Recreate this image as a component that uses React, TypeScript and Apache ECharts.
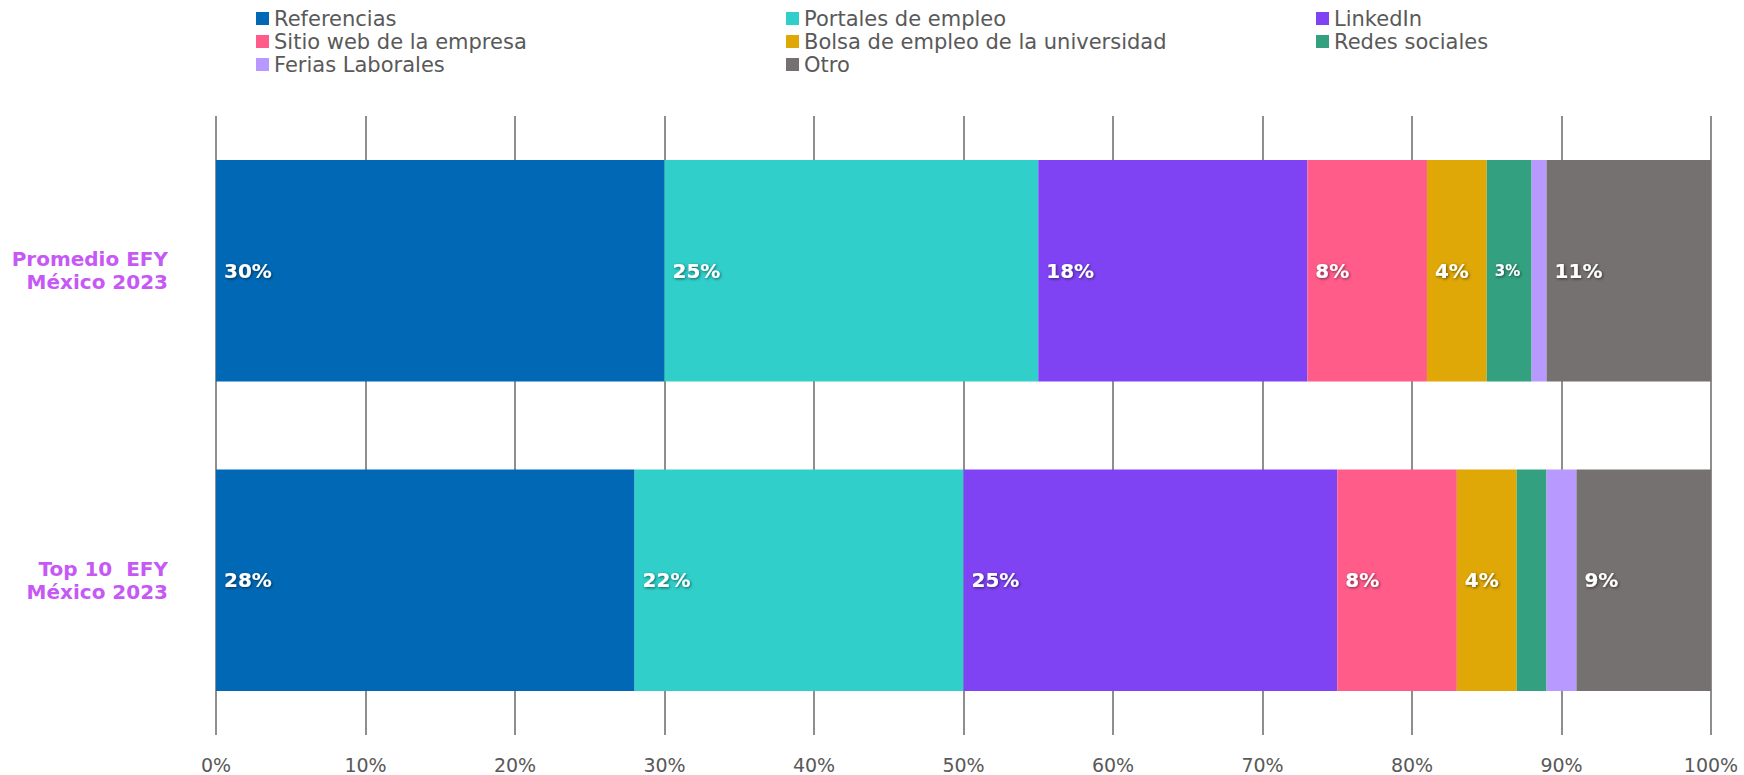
import React, { useEffect, useRef } from "react";
import * as echarts from "echarts";

const categories = ["Promedio EFY\nMéxico 2023", "Top 10  EFY\nMéxico 2023"];
const seriesNames = [
  "Referencias",
  "Portales de empleo",
  "LinkedIn",
  "Sitio web de la empresa",
  "Bolsa de empleo de la universidad",
  "Redes sociales",
  "Ferias Laborales",
  "Otro",
];
const referencias = [30, 28];
const portales = [25, 22];
const linkedin = [18, 25];
const sitioWeb = [8, 8];
const bolsa = [4, 4];
const redes = [3, 2];
const ferias = [1, 2];
const otro = [11, 9];
const xTicks = [0, 10, 20, 30, 40, 50, 60, 70, 80, 90, 100];

const colors = ["#0068B5", "#30CFC9", "#7F43F3", "#FF5C8A", "#E0A806", "#33A17F", "#B899FF", "#767171"];

export default function App() {
  const ref = useRef<HTMLDivElement>(null);
  useEffect(() => {
    document.body.style.margin = "0";
    const chart = echarts.init(ref.current!, null, { renderer: "svg" });
    const values = [referencias, portales, linkedin, sitioWeb, bolsa, redes, ferias, otro];
    const font = "'DejaVu Sans', sans-serif";
    const series = seriesNames.map((name, i) => ({
      name,
      type: "bar",
      stack: "total",
      barCategoryGap: "28.5%",
      itemStyle: { color: colors[i] },
      data: values[i].map((v) => ({
        value: v,
        label: {
          show: v >= 3,
          fontSize: v === 3 ? 15 : 20,
        },
      })),
      label: {
        show: true,
        position: "insideLeft",
        distance: 8,
        formatter: (p: any) => (p.value >= 3 ? p.value + "%" : ""),
        color: "#ffffff",
        fontWeight: "bold",
        fontFamily: font,
        fontSize: 20,
        textShadowColor: "rgba(0,0,0,0.55)",
        textShadowBlur: 3,
        textShadowOffsetX: 1,
        textShadowOffsetY: 1,
      },
    }));
    chart.setOption({
      animation: false,
      backgroundColor: "#ffffff",
      legend: {
        left: 251,
        top: 2,
        width: 1620,
        itemWidth: 13,
        itemHeight: 13,
        itemGap: 0,
        icon: "rect",
        data: seriesNames,
        textStyle: {
          color: "#595959",
          fontFamily: font,
          fontSize: 21,
          width: 512,
          lineHeight: 23,
          overflow: "truncate",
        },
      },
      grid: { left: 216, right: 33, top: 116, bottom: 40, containLabel: false },
      xAxis: {
        type: "value",
        min: xTicks[0],
        max: xTicks[xTicks.length - 1],
        interval: 10,
        axisLine: { show: false },
        axisTick: { show: false },
        splitLine: { show: true, lineStyle: { color: "#8E8E8E", width: 2 } },
        axisLabel: {
          formatter: "{value}%",
          color: "#595959",
          fontFamily: font,
          fontSize: 19,
          margin: 20,
        },
      },
      yAxis: {
        type: "category",
        inverse: true,
        data: categories,
        axisLine: { show: false },
        axisTick: { show: false },
        axisLabel: {
          color: "#C659F5",
          fontWeight: "bold",
          fontFamily: font,
          fontSize: 20,
          lineHeight: 23,
          margin: 48,
          align: "right",
        },
      },
      series,
    });
    return () => chart.dispose();
  }, []);
  return <div ref={ref} style={{ width: 1744, height: 775 }} />;
}
